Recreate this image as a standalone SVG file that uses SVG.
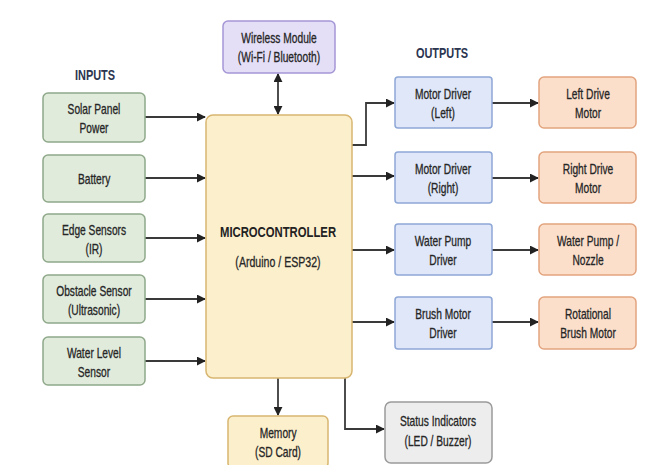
<svg xmlns="http://www.w3.org/2000/svg" width="662" height="465" viewBox="0 0 662 465">
<style>
text{font-family:"Liberation Sans",Arial,sans-serif;font-size:14px;fill:#262626;stroke:#262626;stroke-width:0.3;text-anchor:middle;transform-box:fill-box;transform-origin:center;transform:scaleX(0.73)}
.h{font-weight:bold;font-size:15px;fill:#2b3550;stroke:none}
.in rect{fill:#e0ebdc;stroke:#8fa98a;stroke-width:1.5}
.mc rect{fill:#fcefcc;stroke:#d8b670;stroke-width:1.5}
.wl rect{fill:#e4def7;stroke:#a596d6;stroke-width:1.5}
.dr rect{fill:#dfe7f8;stroke:#8ea7d6;stroke-width:1.5}
.mo rect{fill:#fcdfcb;stroke:#e2a47f;stroke-width:1.5}
.st rect{fill:#ededed;stroke:#9a9a9a;stroke-width:1.5}
.c{fill:none;stroke:#3a3a3a;stroke-width:1.8;marker-end:url(#a)}
.big{font-weight:bold;font-size:15.5px;fill:#222;stroke:none}
</style>
<defs>
<marker id="a" viewBox="0 0 10 10" refX="9" refY="5" markerWidth="5" markerHeight="5" orient="auto-start-reverse" markerUnits="strokeWidth"><path d="M0,0L10,5L0,10z" fill="#222"/></marker>
</defs>
<rect width="662" height="465" fill="#ffffff"/>
<text class="h" x="95" y="80">INPUTS</text>
<text class="h" x="442" y="58">OUTPUTS</text>

<g id="connectors">
<path class="c" d="M145,117H205"/>
<path class="c" d="M145,178H205"/>
<path class="c" d="M145,238H205"/>
<path class="c" d="M145,299H205"/>
<path class="c" d="M145,361H205"/>
<path class="c" d="M278,74V114" marker-start="url(#a)"/>
<path class="c" d="M352,145H366V103H394"/>
<path class="c" d="M352,176H394"/>
<path class="c" d="M352,250H394"/>
<path class="c" d="M352,322H394"/>
<path class="c" d="M492,103H538"/>
<path class="c" d="M492,178H538"/>
<path class="c" d="M492,250H538"/>
<path class="c" d="M492,322H538"/>
<path class="c" d="M278,378V415"/>
<path class="c" d="M345,378V429H384"/>
</g>

<g id="solar" class="in"><rect x="43" y="93" width="102" height="49" rx="5"/><text x="94" y="114">Solar Panel</text><text x="94" y="133">Power</text></g>
<g id="battery" class="in"><rect x="43" y="155" width="102" height="47" rx="5"/><text x="94" y="184">Battery</text></g>
<g id="edge" class="in"><rect x="43" y="214" width="102" height="48" rx="5"/><text x="94" y="235">Edge Sensors</text><text x="94" y="254">(IR)</text></g>
<g id="obstacle" class="in"><rect x="43" y="275" width="102" height="48" rx="5"/><text x="94" y="296">Obstacle Sensor</text><text x="94" y="315">(Ultrasonic)</text></g>
<g id="water-level" class="in"><rect x="43" y="337" width="102" height="48" rx="5"/><text x="94" y="358">Water Level</text><text x="94" y="377">Sensor</text></g>

<g id="mcu" class="mc"><rect x="206" y="115" width="146" height="263" rx="7"/><text class="big" x="278" y="237">MICROCONTROLLER</text><text x="278" y="267" style="font-size:14.5px">(Arduino / ESP32)</text></g>
<g id="wireless" class="wl"><rect x="223" y="21" width="112" height="52" rx="5"/><text x="279" y="43">Wireless Module</text><text x="279" y="62">(Wi-Fi / Bluetooth)</text></g>
<g id="memory" class="mc"><rect x="228" y="416" width="100" height="52" rx="5"/><text x="278" y="438">Memory</text><text x="278" y="457">(SD Card)</text></g>
<g id="status" class="st"><rect x="385" y="402" width="107" height="61" rx="6"/><text x="438" y="426">Status Indicators</text><text x="438" y="446">(LED / Buzzer)</text></g>

<g id="drv-left" class="dr"><rect x="395" y="77" width="97" height="51" rx="3"/><text x="443" y="99">Motor Driver</text><text x="443" y="118">(Left)</text></g>
<g id="drv-right" class="dr"><rect x="395" y="152" width="97" height="51" rx="3"/><text x="443" y="174">Motor Driver</text><text x="443" y="193">(Right)</text></g>
<g id="drv-pump" class="dr"><rect x="395" y="224" width="97" height="51" rx="3"/><text x="443" y="246">Water Pump</text><text x="443" y="265">Driver</text></g>
<g id="drv-brush" class="dr"><rect x="395" y="297" width="97" height="52" rx="3"/><text x="443" y="319">Brush Motor</text><text x="443" y="338">Driver</text></g>

<g id="mot-left" class="mo"><rect x="539" y="77" width="97" height="51" rx="5"/><text x="588" y="99">Left Drive</text><text x="588" y="118">Motor</text></g>
<g id="mot-right" class="mo"><rect x="539" y="152" width="97" height="51" rx="5"/><text x="588" y="174">Right Drive</text><text x="588" y="193">Motor</text></g>
<g id="mot-pump" class="mo"><rect x="539" y="224" width="97" height="51" rx="5"/><text x="588" y="246">Water Pump /</text><text x="588" y="265">Nozzle</text></g>
<g id="mot-brush" class="mo"><rect x="539" y="297" width="97" height="52" rx="5"/><text x="588" y="319">Rotational</text><text x="588" y="338">Brush Motor</text></g>
</svg>
